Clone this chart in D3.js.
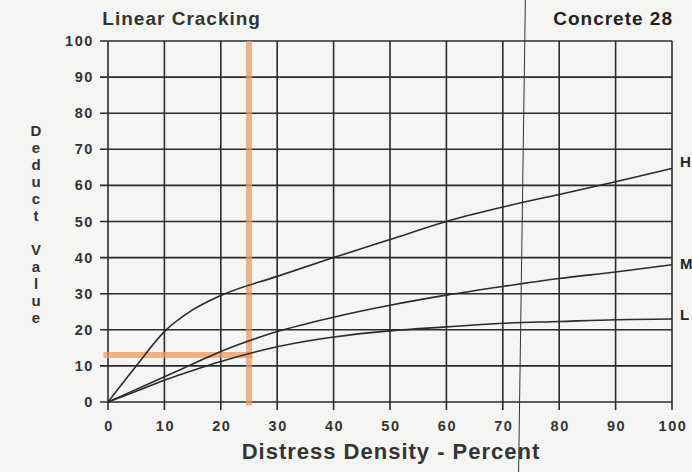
<!DOCTYPE html>
<html><head><meta charset="utf-8">
<script src="https://cdn.jsdelivr.net/npm/d3@7"></script>
<style>
html,body{margin:0;padding:0;background:#f5f5f3;}
svg{display:block;font-family:"Liberation Sans",Arial,sans-serif;}
</style></head>
<body>
<svg id="c" width="692" height="472"></svg>
<script>
// ---- data ----
const title = "Linear Cracking";
const subtitle = "Concrete 28";
const xTitle = "Distress Density - Percent";
const yTitle = "Deduct Value";
const xTicks = [0,10,20,30,40,50,60,70,80,90,100];
const yTicks = [0,10,20,30,40,50,60,70,80,90,100];
const densityX = [0,5,10,15,20,30,40,50,60,70,80,90,100];
const highDV   = [0,10,19.5,25.5,29.5,34.8,40,45,50,54,57.5,61,64.7];
const medDV    = [0,3.5,7,10.5,14,19.5,23.5,26.8,29.6,32,34.2,36,38];
const lowDV    = [0,3,6,8.7,11.2,15.3,18,19.7,20.8,21.8,22.3,22.8,23];
const severityLabels = ["H","M","L"];
const exampleDensity = 25;     // orange reading line (x)
const exampleDeduct = 13;      // orange reading line (y)
const foldLine = [74.0, 72.8]; // scanned fold line, x value at top / bottom

const svg = d3.select("#c");
const x = d3.scaleLinear().domain([0,100]).range([108,672]);
const y = d3.scaleLinear().domain([0,100]).range([402,41]);
const ink = "#2b2b2b";

// grid
svg.append("g").selectAll("line").data(xTicks).join("line")
  .attr("x1",d=>x(d)).attr("x2",d=>x(d)).attr("y1",y(100)).attr("y2",y(0)+8)
  .attr("stroke",ink).attr("stroke-width",1.6);
svg.append("g").selectAll("line").data(yTicks).join("line")
  .attr("x1",x(0)-8).attr("x2",x(100)).attr("y1",d=>y(d)).attr("y2",d=>y(d))
  .attr("stroke",ink).attr("stroke-width",1.6);

// tick labels
svg.append("g").selectAll("text").data(yTicks).join("text")
  .attr("x",x(0)-14).attr("y",d=>y(d)+5).attr("text-anchor","end")
  .attr("font-size",14.5).attr("letter-spacing",1.6).attr("font-weight","bold").attr("fill","#333").text(d=>d);
svg.append("g").selectAll("text").data(xTicks).join("text")
  .attr("x",d=>x(d)+1).attr("y",y(0)+29).attr("text-anchor","middle")
  .attr("font-size",14.5).attr("letter-spacing",1.6).attr("font-weight","bold").attr("fill","#333").text(d=>d);

// orange reading lines
svg.append("line").attr("x1",x(exampleDensity)).attr("x2",x(exampleDensity))
  .attr("y1",y(100)).attr("y2",y(-1)).attr("stroke","#e89a62").attr("stroke-opacity",0.75).attr("stroke-width",6);
svg.append("line").attr("x1",x(-0.8)).attr("x2",x(exampleDensity+0.6))
  .attr("y1",y(exampleDeduct)).attr("y2",y(exampleDeduct)).attr("stroke","#e89a62").attr("stroke-opacity",0.75).attr("stroke-width",6);

// curves
const line = d3.line().x((d,i)=>x(densityX[i])).y(d=>y(d)).curve(d3.curveMonotoneX);
[highDV,medDV,lowDV].forEach(s=>{
  svg.append("path").attr("d",line(s)).attr("fill","none").attr("stroke",ink).attr("stroke-width",1.6);
});

// severity labels
[highDV,medDV,lowDV].forEach((s,i)=>{
  const off = [1.8,0.5,1.1][i];
  svg.append("text").attr("x",x(100)+8).attr("y",y(s[s.length-1]+off)+5.5)
    .attr("font-size",15).attr("font-weight","bold").attr("fill","#222").text(severityLabels[i]);
});

// fold line
svg.append("line").attr("x1",x(foldLine[0])).attr("x2",x(foldLine[1]))
  .attr("y1",0).attr("y2",472).attr("stroke","#333").attr("stroke-width",1);

// titles
svg.append("text").attr("x",x(-1)).attr("y",25).attr("font-size",19).attr("letter-spacing",1).attr("font-weight","bold").attr("fill","#333").text(title);
svg.append("text").attr("x",x(100)+1).attr("y",25).attr("text-anchor","end").attr("font-size",19).attr("letter-spacing",1).attr("font-weight","bold").attr("fill","#222").text(subtitle);
svg.append("text").attr("x",391).attr("y",459).attr("text-anchor","middle").attr("font-size",22).attr("letter-spacing",1).attr("font-weight","bold").attr("fill","#333").text(xTitle);

// stacked y title
const yt = yTitle.split("");
svg.append("g").selectAll("text").data(yt).join("text")
  .attr("x",36).attr("y",(d,i)=>136+i*17).attr("text-anchor","middle")
  .attr("font-size",15).attr("font-weight","bold").attr("fill","#333").text(d=>d);
</script>
</body></html>
